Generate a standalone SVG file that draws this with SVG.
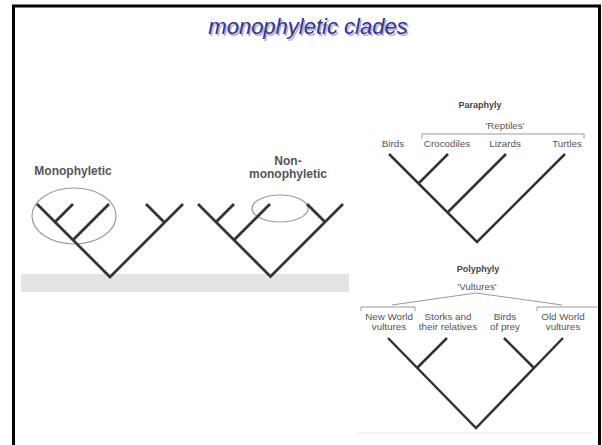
<svg xmlns="http://www.w3.org/2000/svg" width="602" height="445" viewBox="0 0 602 445">
  <style>
    .title { font-family: "Liberation Sans", Arial, sans-serif; font-style: italic; font-size: 22px; text-anchor: middle; }
    .big { font-family: "Liberation Sans", Arial, sans-serif; font-weight: bold; font-size: 12px; fill: #555; text-anchor: middle; }
    .head { font-family: "Liberation Sans", Arial, sans-serif; font-weight: bold; font-size: 9px; fill: #444; text-anchor: middle; }
    .lbl { font-family: "Liberation Sans", Arial, sans-serif; font-size: 9.8px; fill: #555; text-anchor: middle; }
    .tree { fill: none; stroke: #353535; stroke-width: 2.8; stroke-linejoin: miter; }
    .tree2 { fill: none; stroke: #333; stroke-width: 2.5; stroke-linejoin: miter; }
    .ring { fill: none; stroke: #9a9a9a; stroke-width: 1.2; }
    .brk { fill: none; stroke: #999; stroke-width: 1; }
  </style>

  <!-- slide frame -->
  <path d="M13.5,445 V6 H599.5 V445" fill="none" stroke="#000" stroke-width="3"/>

  <!-- title with soft drop shadow -->
  <g id="title">
    <text class="title" x="309.5" y="35.5" fill="#b4b4c4">monophyletic clades</text>
    <text class="title" x="308" y="34" fill="#333399">monophyletic clades</text>
  </g>

  <!-- left panel: ground bar -->
  <rect x="21" y="274" width="328" height="18" fill="#e4e4e4"/>

  <!-- monophyletic example -->
  <g id="mono">
    <text class="big" x="73" y="175">Monophyletic</text>
    <ellipse class="ring" cx="74" cy="216" rx="42" ry="28"/>
    <g class="tree">
      <path d="M37,204 L110,277 L183,204"/>
      <path d="M73,204 L55,222"/>
      <path d="M109,204 L73,240"/>
      <path d="M146,204 L165,223"/>
    </g>
  </g>

  <!-- non-monophyletic example -->
  <g id="nonmono">
    <text class="big" x="288" y="165">Non-</text>
    <text class="big" x="288" y="178">monophyletic</text>
    <ellipse class="ring" cx="280" cy="208.5" rx="28" ry="13.5"/>
    <g class="tree">
      <path d="M198,204 L270.5,276.5 L343,204"/>
      <path d="M234,204 L216,222"/>
      <path d="M270,204 L234,240"/>
      <path d="M307,204 L325,222"/>
    </g>
  </g>

  <!-- paraphyly panel -->
  <g id="paraphyly">
    <text class="head" x="480" y="108">Paraphyly</text>
    <text class="lbl" x="505" y="129">'Reptiles'</text>
    <path class="brk" d="M422,139 V134 H584 V139"/>
    <text class="lbl" x="393" y="147">Birds</text>
    <text class="lbl" x="447" y="147">Crocodiles</text>
    <text class="lbl" x="505" y="147">Lizards</text>
    <text class="lbl" x="567" y="147">Turtles</text>
    <g class="tree2">
      <path d="M389,154 L477,242 L565,154"/>
      <path d="M448,154 L418.5,183.5"/>
      <path d="M506,154 L447.5,212.5"/>
    </g>
  </g>

  <!-- polyphyly panel -->
  <g id="polyphyly">
    <text class="head" x="478" y="272">Polyphyly</text>
    <text class="lbl" x="477" y="290">'Vultures'</text>
    <path class="brk" d="M392,305 L476,293 L562,305"/>
    <path class="brk" d="M361,311 V307 H415 V311"/>
    <path class="brk" d="M537,311 V307 H597"/>
    <text class="lbl" x="389" y="320">New World</text>
    <text class="lbl" x="389" y="330">vultures</text>
    <text class="lbl" x="448" y="320">Storks and</text>
    <text class="lbl" x="448" y="330">their relatives</text>
    <text class="lbl" x="505" y="320">Birds</text>
    <text class="lbl" x="505" y="330">of prey</text>
    <text class="lbl" x="563" y="320">Old World</text>
    <text class="lbl" x="563" y="330">vultures</text>
    <g class="tree2">
      <path d="M388,338 L476,428 L563,338"/>
      <path d="M447,338 L417.5,367.5"/>
      <path d="M504,338 L533.5,367.5"/>
    </g>
    <line x1="357" y1="433" x2="593" y2="433" stroke="#e6e6e6" stroke-width="1"/>
  </g>
</svg>
